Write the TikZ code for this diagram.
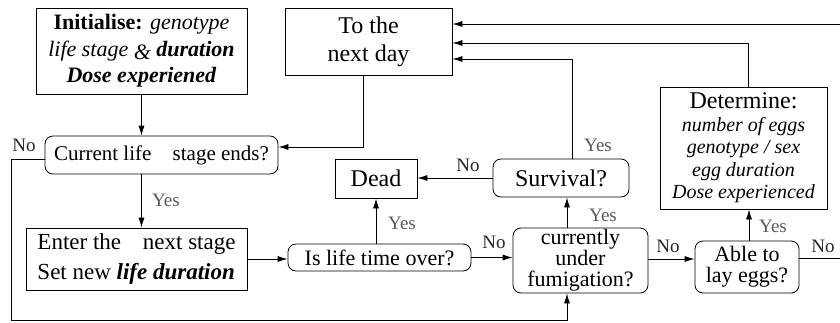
\documentclass[tikz,border=0pt]{standalone}
\usepackage{fontspec}
\setmainfont{LiberationSerif}[
  Extension=.ttf,
  UprightFont=*-Regular,
  BoldFont=*-Bold,
  ItalicFont=*-Italic,
  BoldItalicFont=*-BoldItalic]
\usetikzlibrary{arrows.meta}
\tikzset{
  box/.style={draw, line width=0.8pt, inner sep=0pt, align=center},
  rbox/.style={box, rounded corners=8pt},
  arr/.style={-{Latex[length=10pt,width=6pt]}, line width=0.8pt},
  wire/.style={line width=0.8pt},
  ylab/.style={font=\fontsize{19}{19}\selectfont, text=black!65, inner sep=0pt},
  nlab/.style={font=\fontsize{19}{19}\selectfont, text=black!85, inner sep=0pt}
}
\begin{document}
\begin{tikzpicture}[x=1pt,y=-1pt]
\useasboundingbox (0,0) rectangle (840,322);
% boxes
\node[box, minimum width=211pt, minimum height=86pt, font=\fontsize{22}{26.5}\selectfont] (init) at (141.5,51)
  {{\bfseries Initialise:} \textit{genotype}\\ \textit{life stage} \raisebox{-3pt}{\textit{\&}} \textbf{\textit{duration}}\\ \textbf{\textit{Dose experiened}}};
\node[box, minimum width=167pt, minimum height=67pt, font=\fontsize{24}{28}\selectfont] (next) at (368.5,41.5) {To the\\next day};
\node[rbox, minimum width=233pt, minimum height=38pt, font=\fontsize{21}{24}\selectfont] (cur) at (161.5,155) {Current life\hspace{16pt} stage ends?};
\node[box, minimum width=221pt, minimum height=62pt, align=left, font=\fontsize{23}{30}\selectfont] (enter) at (136.5,259)
  {Enter the\hspace{16pt} next stage\\Set new \textbf{\textit{life duration}}};
\node[box, minimum width=82pt, minimum height=39pt, font=\fontsize{24}{28}\selectfont] (dead) at (376,178.5) {Dead};
\node[rbox, minimum width=136pt, minimum height=38pt, font=\fontsize{24}{28}\selectfont] (surv) at (561,178) {Survival?};
\node[rbox, minimum width=183pt, minimum height=27pt, font=\fontsize{22}{24}\selectfont] (life) at (379.5,257.5) {Is life time over?};
\node[rbox, minimum width=135pt, minimum height=65pt, font=\fontsize{22}{21}\selectfont] (fum) at (580.5,260.5) {currently\\under\\fumigation?};
\node[rbox, minimum width=104pt, minimum height=52pt, font=\fontsize{22}{21}\selectfont] (able) at (747,267) {Able to\\lay eggs?};
\node[box, minimum width=167pt, minimum height=122pt, font=\fontsize{20}{22.5}\selectfont] (det) at (743.5,148)
  {{\fontsize{24}{24}\selectfont Determine:}\\ \textit{number of eggs}\\ \textit{genotype / sex}\\ \textit{egg duration}\\ \textit{Dose experienced}};
% free ends
\coordinate (r1) at (840,24);
\coordinate (r2) at (840,258);
\coordinate (c1) at (11,320);
% connectors
\draw[arr] (init.south) -- (init.south |- cur.north);
\draw[arr] (cur.south -| init.south) -- (enter.north -| init.south);
\draw[arr] ([xshift=-5.5pt]next.south) |- ([yshift=8pt]cur.east);
\draw[arr] ([yshift=-4pt]cur.west) -| (c1) -| ([xshift=-13.5pt]fum.south);
\draw[arr] (enter.east) -- (enter.east -| life.west);
\draw[arr] (dead.south |- life.north) -- (dead.south);
\draw[arr] (life.east) -- (life.east -| fum.west);
\draw[arr] ([xshift=-13.5pt]fum.north) -- ([xshift=-13.5pt]fum.north |- surv.south);
\draw[arr] (surv.west) -- (surv.west -| dead.east);
\draw[arr] ([xshift=11pt]surv.north) |- ([yshift=-17.5pt]next.east);
\draw[arr] ([xshift=4.5pt]det.north) |- ([yshift=-1.5pt]next.east);
\draw[arr] (r1) -- (r1 -| next.east);
\draw[arr] ([yshift=1.5pt]fum.east) -- ([yshift=1.5pt]fum.east -| able.west);
\draw[arr] ([xshift=2pt]able.north) -- ([xshift=2pt]able.north |- det.south);
\draw[wire] (able.east |- r2) -- (r2);
% labels
\node[nlab] (l1) at (24,145) {No};
\node[ylab] (l2) at (166,200) {Yes};
\node[nlab] (l3) at (468,165) {No};
\node[ylab] (l4) at (402,223) {Yes};
\node[nlab] (l5) at (494,242) {No};
\node[ylab] (l6) at (603,215) {Yes};
\node[ylab] (l7) at (598,145) {Yes};
\node[nlab] (l8) at (668,246) {No};
\node[ylab] (l9) at (773,226) {Yes};
\node[nlab] (l10) at (823,246) {No};
\end{tikzpicture}
\end{document}
